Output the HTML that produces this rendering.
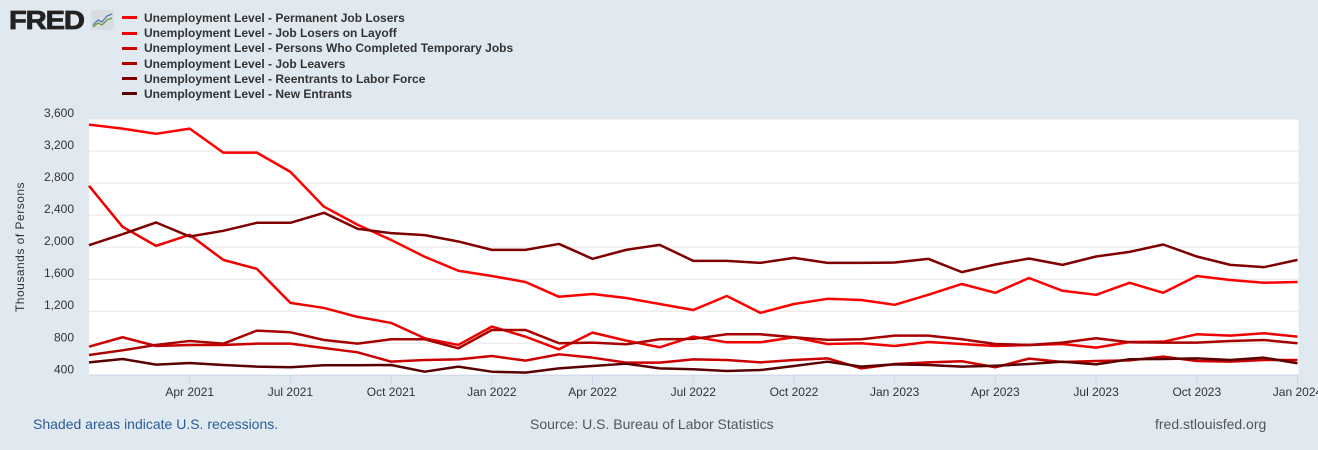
<!DOCTYPE html>
<html><head><meta charset="utf-8"><style>
body{margin:0;width:1318px;height:450px;background:#e1e9f0;font-family:"Liberation Sans",sans-serif;overflow:hidden;position:relative}
.leg{position:absolute;left:122px;font-size:12px;font-weight:bold;color:#333;white-space:nowrap}
.leg span{display:inline-block;width:15px;height:3px;vertical-align:middle;margin-right:7px;position:relative;top:-1px}
.foot{position:absolute;top:416px;font-size:14px;color:#555}
</style></head><body>
<div style="position:absolute;left:9px;top:5px;font-size:26px;font-weight:900;color:#222;letter-spacing:-1px;transform:scaleX(1.12);transform-origin:left;-webkit-text-stroke:0.8px #222">FRED</div>
<svg style="position:absolute;left:91px;top:10px" width="23" height="20"><rect width="23" height="20" rx="2" fill="#d8dde2"/><polyline points="2,15 7,10 11,12 16,6 21,4" fill="none" stroke="#4b7ab5" stroke-width="1.3"/><polyline points="2,17 7,13 11,15 16,10 21,8" fill="none" stroke="#6a9a3a" stroke-width="1.3"/></svg>
<div id="legend"></div>
<svg id="chart" width="1318" height="450" style="position:absolute;left:0;top:0"></svg>
<div class="foot" style="left:33px;color:#2b5c98">Shaded areas indicate U.S. recessions.</div>
<div class="foot" style="left:530px">Source: U.S. Bureau of Labor Statistics</div>
<div class="foot" style="left:1155px">fred.stlouisfed.org</div>
<script>
const seriesNames=["Unemployment Level - Permanent Job Losers","Unemployment Level - Job Losers on Layoff","Unemployment Level - Persons Who Completed Temporary Jobs","Unemployment Level - Job Leavers","Unemployment Level - Reentrants to Labor Force","Unemployment Level - New Entrants"];
const permanent=[3530,3480,3415,3480,3180,3180,2940,2505,2280,2090,1880,1705,1640,1565,1380,1415,1365,1290,1215,1390,1180,1290,1355,1340,1280,1405,1540,1430,1615,1455,1405,1555,1430,1640,1590,1555,1565];
const layoff=[2766,2254,2016,2154,1841,1729,1304,1241,1129,1054,862,779,1008,883,725,933,833,750,883,812,812,875,791,800,766,816,791,766,779,791,745,816,820,912,895,925,883];
const temporary=[757,875,766,779,779,795,795,741,687,570,591,599,641,583,662,620,558,558,599,591,562,591,612,487,541,562,575,500,608,566,579,587,633,579,570,591,591];
const leavers=[654,712,779,829,795,958,937,841,795,850,850,737,966,966,800,808,787,850,854,912,912,875,842,850,895,895,850,791,779,808,862,812,808,808,829,841,800];
const reentrants=[2025,2162,2308,2133,2204,2304,2304,2429,2229,2175,2150,2071,1966,1966,2040,1854,1966,2029,1829,1829,1804,1866,1804,1804,1808,1854,1688,1783,1858,1779,1883,1941,2033,1883,1779,1750,1841];
const newEntrants=[562,604,533,554,529,508,500,525,525,529,445,508,445,433,487,516,545,487,475,454,466,516,570,508,537,529,508,520,541,570,537,600,604,612,591,620,550];
const yTicks=[400,800,1200,1600,2000,2400,2800,3200,3600];
const xTickLabels=["Apr 2021","Jul 2021","Oct 2021","Jan 2022","Apr 2022","Jul 2022","Oct 2022","Jan 2023","Apr 2023","Jul 2023","Oct 2023","Jan 2024"];
const xTickIdx=[3,6,9,12,15,18,21,24,27,30,33,36];
const colors=["#ff0000","#ee0000","#cc0000","#a80000","#800000","#5a0000"];
const all=[permanent,layoff,temporary,leavers,reentrants,newEntrants];
const L=89,R=1297.5,T=119,B=375.3;
const x=i=>L+i*(R-L)/36;
const y=v=>B-(v-400)*(B-T)/3200;
const ns="http://www.w3.org/2000/svg",svg=document.getElementById('chart');
function mk(t,a){const e=document.createElementNS(ns,t);for(const k in a)e.setAttribute(k,a[k]);svg.appendChild(e);return e;}
const bg=mk('rect',{x:L,y:T,width:R-L+1,height:B-T,fill:'#fff'});


yTicks.forEach(v=>{
 const g=mk('line',{x1:L,x2:R+1,y1:y(v),y2:y(v),stroke:'#e6e6e6','stroke-width':1});
 
 
 const t=mk('text',{x:74,y:y(v)-2,'text-anchor':'end','font-size':12,fill:'#333'});
 t.textContent=v.toLocaleString('en-US');
 
 
});
const ax=mk('line',{x1:L,x2:R+1,y1:B,y2:B,stroke:'#ccd6eb','stroke-width':1});


xTickIdx.forEach((i,k)=>{
 const tk=mk('line',{x1:x(i),x2:x(i),y1:B,y2:B+9,stroke:'#ccd6eb'});
 
 
 const t=mk('text',{x:x(i),y:396,'text-anchor':'middle','font-size':12,fill:'#333'});
 t.textContent=xTickLabels[k];
 
 
});
const yt=mk('text',{x:24,y:247,'text-anchor':'middle','font-size':12,fill:'#333',transform:'rotate(-90 24 247)','letter-spacing':'0.5'});
yt.textContent='Thousands of Persons';


all.forEach((s,si)=>{
 const p=mk('polyline',{points:s.map((v,i)=>x(i)+','+y(v)).join(' '),fill:'none',stroke:colors[si],'stroke-width':2.5,'stroke-linejoin':'round'});
 
 
});
const leg=document.getElementById('legend');
seriesNames.forEach((n,i)=>{
 const d=document.createElement('div');
 d.className='leg';d.style.top=(11+i*15.2)+'px';
 d.innerHTML='<span style="background:'+colors[i]+'"></span>'+n;
 
 
 leg.appendChild(d);
});
</script>
</body></html>
